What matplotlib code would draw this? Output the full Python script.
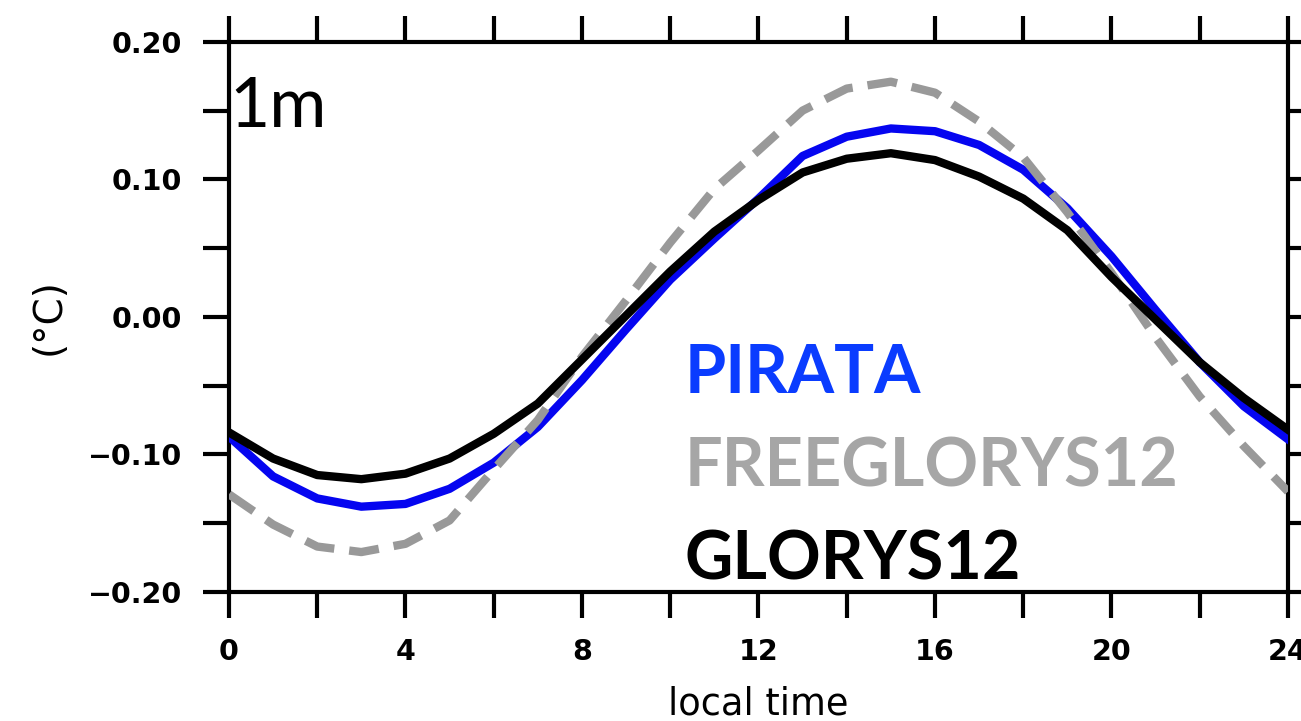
import numpy as np
import matplotlib.pyplot as plt
from matplotlib.ticker import MultipleLocator

hours = list(range(25))

pirata = [-0.087, -0.116, -0.132, -0.138, -0.136, -0.125, -0.106, -0.080, -0.046,
          -0.009, 0.027, 0.057, 0.086, 0.117, 0.131, 0.137, 0.135, 0.125, 0.107,
          0.079, 0.044, 0.005, -0.033, -0.065, -0.089]
freeglorys = [-0.129, -0.151, -0.167, -0.171, -0.165, -0.148, -0.111, -0.075, -0.029,
              0.012, 0.054, 0.093, 0.121, 0.150, 0.166, 0.171, 0.163, 0.142, 0.116,
              0.076, 0.032, -0.015, -0.058, -0.094, -0.127]
glorys = [-0.084, -0.103, -0.115, -0.118, -0.114, -0.103, -0.085, -0.063, -0.031,
          0.001, 0.033, 0.062, 0.085, 0.105, 0.115, 0.119, 0.114, 0.102, 0.086,
          0.063, 0.029, -0.002, -0.033, -0.059, -0.082]

xticks = [0, 4, 8, 12, 16, 20, 24]
yticks = [-0.20, -0.10, 0.00, 0.10, 0.20]
ytick_labels = ["\u22120.20", "\u22120.10", "0.00", "0.10", "0.20"]

fig = plt.figure(figsize=(13.01, 7.21), dpi=100)
ax = fig.add_axes([0.176, 0.179, 0.814, 0.763])

ax.plot(hours, pirata, color="#0505f0", lw=6, solid_joinstyle="round", zorder=3)
ax.plot(hours, freeglorys, color="#999999", lw=6, dashes=(3.6, 1.8), zorder=4)
ax.plot(hours, glorys, color="black", lw=6, solid_joinstyle="round", zorder=5)

ax.set_xlim(0, 24)
ax.set_ylim(-0.2, 0.2)
ax.set_xticks(xticks)
ax.set_xticklabels([str(t) for t in xticks])
ax.xaxis.set_minor_locator(MultipleLocator(2))
ax.set_yticks(yticks)
ax.set_yticklabels(ytick_labels)
ax.yaxis.set_minor_locator(MultipleLocator(0.05))

for s in ax.spines.values():
    s.set_linewidth(3)
ax.tick_params(which="both", direction="out", length=19, width=3,
               top=True, right=True)
ax.tick_params(axis="x", pad=14)
ax.tick_params(axis="y", pad=15)
for lab in ax.get_xticklabels() + ax.get_yticklabels():
    lab.set_family("DejaVu Sans")
    lab.set_weight("bold")
    lab.set_fontsize(20.5)

ax.set_xlabel("local time", fontsize=26.5, family="DejaVu Sans", labelpad=14)
ax.set_ylabel("(\u00b0C)", fontsize=28, family="DejaVu Sans", labelpad=14)

ax.text(0.0, 0.845, "1m", transform=ax.transAxes, fontsize=50,
        family="Lato", ha="left", va="baseline", zorder=6)

ax.text(0.43, 0.362, "PIRATA", transform=ax.transAxes, fontsize=48,
        family="Lato", weight="bold", color="#0a3cff", va="baseline")
ax.text(0.43, 0.191, "FREEGLORYS12", transform=ax.transAxes, fontsize=48,
        family="Lato", weight="bold", color="#a6a6a6", va="baseline")
ax.text(0.43, 0.022, "GLORYS12", transform=ax.transAxes, fontsize=48,
        family="Lato", weight="bold", color="black", va="baseline")

fig.savefig("out.png", dpi=100)
